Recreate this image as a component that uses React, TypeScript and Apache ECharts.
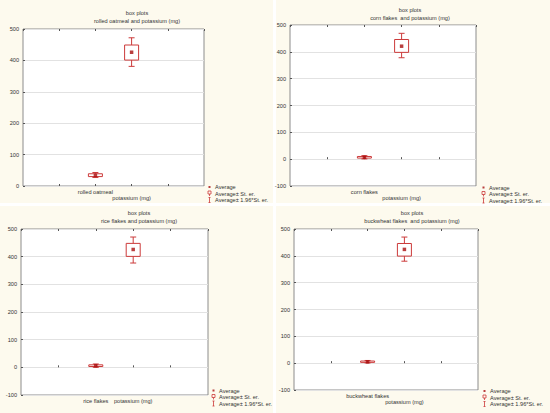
import { useEffect, useRef } from 'react';
import * as echarts from 'echarts';

// one panel per food, each compared with potassium (mg)
const foods = ['rolled oatmeal', 'corn flakes', 'rice flakes', 'buckwheat flakes'];
const subtitles = [
  'rolled oatmeal and potassium (mg)',
  'corn flakes  and potassium (mg)',
  'rice flakes and potassium (mg)',
  'buckwheat flakes  and potassium (mg)',
];
const secondLabel = 'potassium (mg)';
const twoLineLabels = [true, true, false, true];

// food variable: average, average ± st. er., average ± 1.96*st. er.
const foodMean = [34, 7, 6, 5];
const foodBoxLow = [30, 4, 3, 3];
const foodBoxHigh = [39, 10, 9, 8];
const foodWhiskerLow = [27, 1, 0, 1];
const foodWhiskerHigh = [43, 13, 12, 10];

// potassium (mg)
const potMean = [426, 421, 426, 424];
const potBoxLow = [401, 398, 401, 399];
const potBoxHigh = [449, 446, 448, 446];
const potWhiskerLow = [381, 378, 377, 380];
const potWhiskerHigh = [472, 469, 471, 470];

const yMins = [0, -100, -100, -100];
const yMax = 500;
const yStep = 100;

const AVG = 'Average';
const SE = 'Average± St. er.';
const SE196 = 'Average± 1.96*St. er.';

const RED = '#cc3a3a';
const DOT = '#a80f0f';
const TXT = '#333333';
const FONT = "'Liberation Sans', Arial, sans-serif";
const FS = 5.6;

// layout of the four panels (px)
const panels = [
  { bg: [0, 0, 273, 203], grid: [23, 29, 181, 157], title: [137, 10], legend: [207, 184] },
  { bg: [276, 0, 274, 203], grid: [290, 25, 186, 161], title: [410, 7], legend: [481, 184.5] },
  { bg: [0, 206, 273, 207], grid: [21, 229, 187, 166], title: [139, 210], legend: [211, 387.5] },
  { bg: [276, 206, 274, 207], grid: [294, 229, 184, 161], title: [412, 210], legend: [482, 388] },
];

export default function App() {
  const chartRef = useRef<HTMLDivElement>(null);

  useEffect(() => {
    document.body.style.margin = '0';
    if (!chartRef.current) return;
    const chart = echarts.init(chartRef.current, undefined, { renderer: 'svg' });

    const boxItem = (params: any, api: any) => {
      const x = api.value(0);
      const lo = api.coord([x, api.value(1)]);
      const hi = api.coord([x, api.value(2)]);
      const w = 14;
      return {
        type: 'rect',
        shape: { x: lo[0] - w / 2, y: hi[1], width: w, height: lo[1] - hi[1] },
        style: { fill: 'none', stroke: RED, lineWidth: 1 },
      };
    };

    const whiskerItem = (params: any, api: any) => {
      const x = api.value(0);
      const wl = api.coord([x, api.value(1)]);
      const bl = api.coord([x, api.value(2)]);
      const bh = api.coord([x, api.value(3)]);
      const wh = api.coord([x, api.value(4)]);
      const c = 3;
      const st = { stroke: RED, lineWidth: 1 };
      return {
        type: 'group',
        children: [
          { type: 'line', shape: { x1: wh[0], y1: wh[1], x2: bh[0], y2: bh[1] }, style: st },
          { type: 'line', shape: { x1: bl[0], y1: bl[1], x2: wl[0], y2: wl[1] }, style: st },
          { type: 'line', shape: { x1: wh[0] - c, y1: wh[1], x2: wh[0] + c, y2: wh[1] }, style: st },
          { type: 'line', shape: { x1: wl[0] - c, y1: wl[1], x2: wl[0] + c, y2: wl[1] }, style: st },
        ],
      };
    };

    const grids: any[] = [];
    const xAxes: any[] = [];
    const yAxes: any[] = [];
    const titles: any[] = [];
    const legends: any[] = [];
    const series: any[] = [];
    const graphics: any[] = [];

    panels.forEach((p, i) => {
      graphics.push({
        type: 'rect',
        silent: true,
        z: -10,
        shape: { x: p.bg[0], y: p.bg[1], width: p.bg[2], height: p.bg[3] },
        style: { fill: '#fdfaee' },
      });

      grids.push({
        left: p.grid[0],
        top: p.grid[1],
        width: p.grid[2],
        height: p.grid[3],
        show: true,
        backgroundColor: '#ffffff',
        borderColor: '#8c8c8c',
        borderWidth: 1,
      });

      const label2 = twoLineLabels[i] ? '\n' + secondLabel : secondLabel;
      xAxes.push({
        type: 'value',
        gridIndex: i,
        min: 0,
        max: 5,
        interval: 1,
        axisLine: { show: false },
        axisTick: { show: true, inside: true, length: 2, lineStyle: { color: '#555' } },
        splitLine: { show: false },
        axisLabel: {
          color: TXT,
          fontSize: FS,
          fontFamily: FONT,
          lineHeight: 6,
          margin: 3,
          showMinLabel: false,
          showMaxLabel: false,
          formatter: (v: number) => (v === 2 ? foods[i] : v === 3 ? label2 : ''),
        },
      });
      xAxes.push({
        type: 'value',
        gridIndex: i,
        position: 'top',
        min: 0,
        max: 5,
        interval: 1,
        axisLine: { show: false },
        axisTick: { show: true, inside: true, length: 2, lineStyle: { color: '#555' } },
        splitLine: { show: false },
        axisLabel: { show: false },
      });

      yAxes.push({
        type: 'value',
        gridIndex: i,
        min: yMins[i],
        max: yMax,
        interval: yStep,
        axisLine: { show: false },
        axisTick: { show: true, inside: true, length: 2, lineStyle: { color: '#555' } },
        splitLine: { show: true, lineStyle: { color: '#e2e2e2', width: 1 } },
        axisLabel: { color: TXT, fontSize: FS, fontFamily: FONT, margin: 4 },
      });

      titles.push({
        text: 'box plots',
        subtext: subtitles[i],
        left: p.title[0],
        top: p.title[1],
        textAlign: 'center',
        itemGap: 1.5,
        padding: 0,
        textStyle: { color: TXT, fontSize: FS, fontWeight: 'normal', fontFamily: FONT },
        subtextStyle: { color: TXT, fontSize: FS, fontFamily: FONT },
      });

      legends.push({
        orient: 'vertical',
        left: p.legend[0],
        top: p.legend[1],
        padding: 0,
        itemWidth: 5,
        itemHeight: 5,
        itemGap: 0.5,
        selectedMode: false,
        textStyle: { color: TXT, fontSize: FS, lineHeight: 5, fontFamily: FONT, padding: [0, 0, 0, -2] },
        data: [
          {
            name: AVG,
            icon: 'path://M0,0M10,10M3,3h4v4h-4z',
            itemStyle: { color: DOT, borderWidth: 0 },
          },
          {
            name: SE,
            icon: 'path://M2,0h6v6h-6zM5,6v4',
            itemStyle: { color: 'transparent', borderColor: RED, borderWidth: 0.8 },
          },
          {
            name: SE196,
            icon: 'path://M3,0h4M5,0v10M3,10h4',
            itemStyle: { color: 'transparent', borderColor: RED, borderWidth: 0.8 },
          },
        ],
      });

      series.push({
        name: SE196,
        type: 'custom',
        xAxisIndex: i * 2,
        yAxisIndex: i,
        renderItem: whiskerItem,
        itemStyle: { color: RED },
        encode: { x: 0, y: [1, 2, 3, 4] },
        data: [
          [2, foodWhiskerLow[i], foodBoxLow[i], foodBoxHigh[i], foodWhiskerHigh[i]],
          [3, potWhiskerLow[i], potBoxLow[i], potBoxHigh[i], potWhiskerHigh[i]],
        ],
      });
      series.push({
        name: SE,
        type: 'custom',
        xAxisIndex: i * 2,
        yAxisIndex: i,
        renderItem: boxItem,
        itemStyle: { color: RED },
        encode: { x: 0, y: [1, 2] },
        data: [
          [2, foodBoxLow[i], foodBoxHigh[i]],
          [3, potBoxLow[i], potBoxHigh[i]],
        ],
      });
      series.push({
        name: AVG,
        type: 'scatter',
        xAxisIndex: i * 2,
        yAxisIndex: i,
        symbol: 'rect',
        symbolSize: 3.5,
        itemStyle: { color: DOT },
        data: [
          [2, foodMean[i]],
          [3, potMean[i]],
        ],
      });
    });

    chart.setOption({
      animation: false,
      backgroundColor: '#ffffff',
      textStyle: { fontFamily: FONT },
      graphic: graphics,
      grid: grids,
      xAxis: xAxes,
      yAxis: yAxes,
      title: titles,
      legend: legends,
      series,
    });

    return () => {
      chart.dispose();
    };
  }, []);

  return <div ref={chartRef} style={{ width: 550, height: 413 }} />;
}
